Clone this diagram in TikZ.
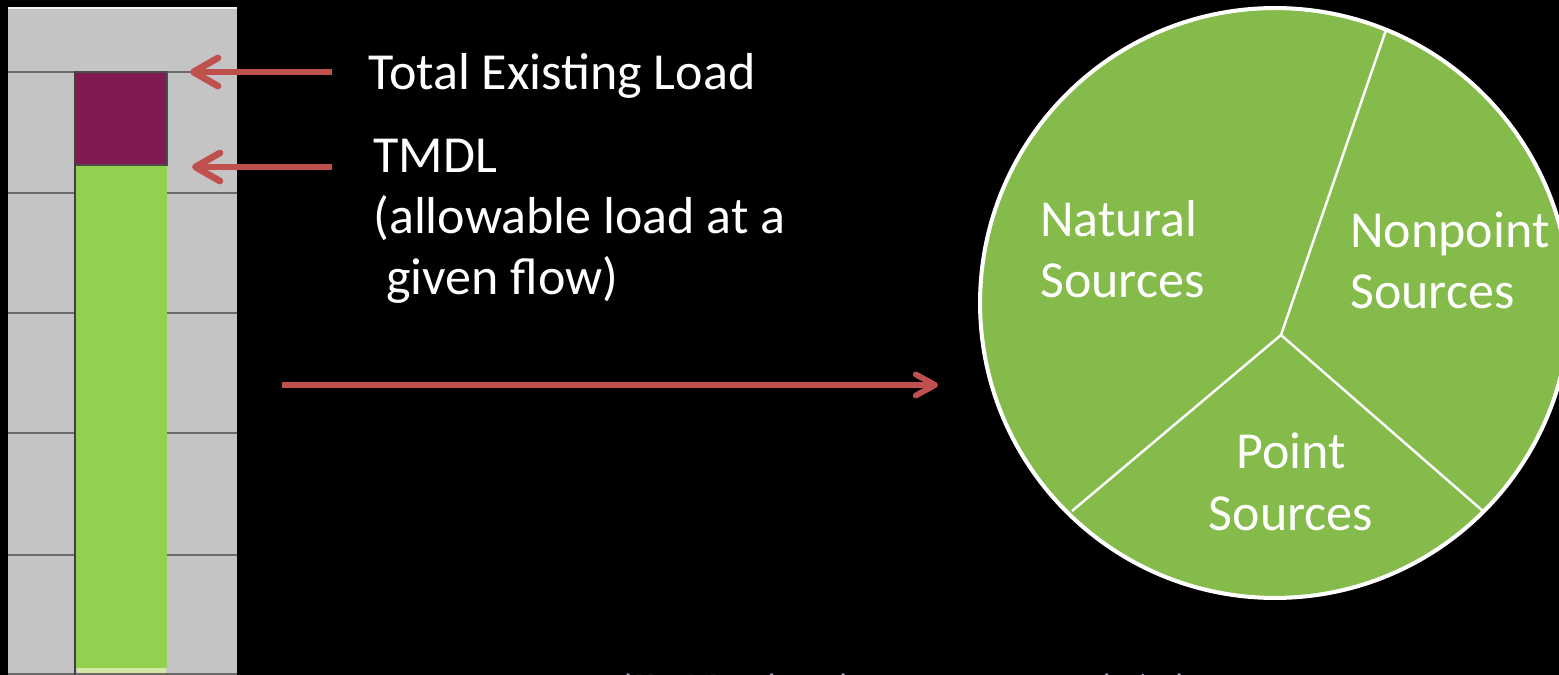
\documentclass[tikz,border=0pt]{standalone}
\usepackage{fontspec}
\setmainfont{Carlito}
\usetikzlibrary{arrows.meta}

\definecolor{loadred}{HTML}{C0504D}
\definecolor{piegreen}{HTML}{84BB4A}
\definecolor{bargreen}{HTML}{92D050}
\definecolor{barpale}{HTML}{D4E8A6}
\definecolor{excess}{HTML}{801A50}
\definecolor{panelgray}{HTML}{C5C4C5}
\definecolor{gridgray}{HTML}{6A6A6A}
\definecolor{eqlilac}{HTML}{B3A2C7}

\tikzset{
  loadarrow/.style={draw=loadred,line width=3.8pt,
    -{Straight Barb[length=14pt,width=16pt,round]}},
  splitarrow/.style={draw=loadred,line width=3.3pt,
    -{Straight Barb[length=11pt,width=12pt,round]}},
  label/.style={white,anchor=base west,inner sep=0pt,align=left},
  slice/.style={white,anchor=base west,inner sep=0pt,align=left}
}

\begin{document}
\begin{tikzpicture}[x=0.02cm,y=-0.02cm,font=\fontsize{29.6}{35}\selectfont]
  \clip (0,0) rectangle (1559,675);
  \fill[black] (0,0) rectangle (1559,675);

  % load chart
  \begin{scope}
    \fill[panelgray] (8,8) rectangle (237,675);
    \draw[white!80!panelgray,line width=1.2pt] (8,8) -- (237,8);
    \foreach \y in {72,193,313,433,555,674}
      \draw[gridgray,line width=1.2pt] (8,\y) -- (237,\y);
    \fill[bargreen] (75,165) rectangle (167,668);
    \fill[barpale] (77,668) rectangle (166,673);
    \fill[excess,draw=black!70,line width=0.8pt] (75,72) rectangle (167,165);
    \draw[black!75,line width=1.2pt] (75,72) -- (75,675);
  \end{scope}

  % labels and arrows (base = last line)
  \node[label] (total) at (368,90) {Total Existing Load};
  \node[label] (tmdl) at (373,295) {TMDL\\(allowable load at a\\\hspace*{0.25em}given flow)};
  \coordinate (totaltail) at (332,72);
  \coordinate (totaltip) at (190,72);
  \coordinate (tmdltail) at (332,167);
  \coordinate (tmdltip) at (192,167);
  \draw[loadarrow] (totaltail) -- (totaltip);
  \draw[loadarrow] (tmdltail) -- (tmdltip);

  \coordinate (splitfrom) at (282,385);
  \coordinate (splitto) at (938,385);
  \draw[splitarrow] (splitfrom) -- (splitto);

  % allocation pie
  \begin{scope}
    \fill[piegreen] (1275,303) circle (5.9cm);
    \draw[white,line width=2.3pt] (1275,303) circle (5.9cm);
    \coordinate (hub) at (1281,335);
    \draw[white,line width=1.4pt] (hub) -- (1386,30);
    \draw[white,line width=1.4pt] (hub) -- (1072,511);
    \draw[white,line width=1.4pt] (hub) -- (1484,512);
    \node[slice] (natural) at (1040,298) {Natural\\Sources};
    \node[slice] (nonpoint) at (1350,309) {Nonpoint\\Sources};
    \node[white,anchor=base,inner sep=0pt,align=center] (point) at (1291,530) {Point\\Sources};
  \end{scope}

  % equation, cut by the frame
  \node[eqlilac,anchor=base west,inner sep=0pt] (equation) at (617,711)
    {(lb/day) = (Stream flow) * (};
\end{tikzpicture}
\end{document}
